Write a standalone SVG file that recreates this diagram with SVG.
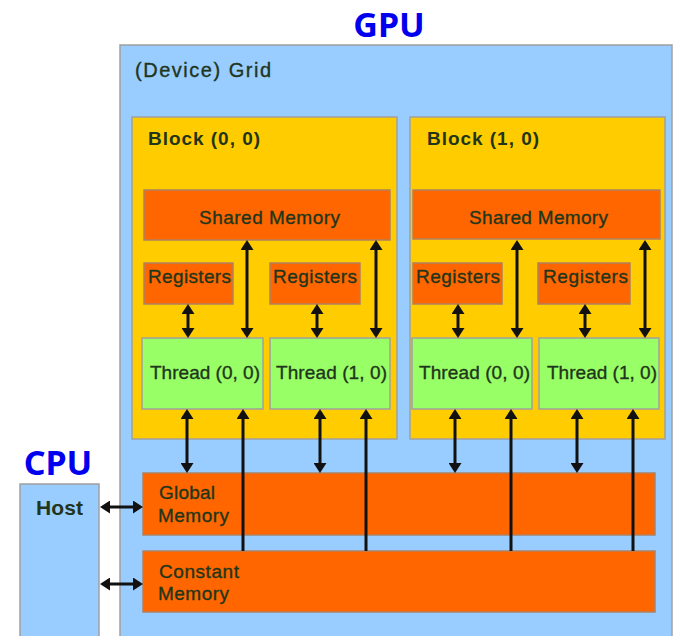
<svg xmlns="http://www.w3.org/2000/svg" width="674" height="636" viewBox="0 0 674 636">
<style>
.lbl{font-family:"Noto Sans","DejaVu Sans",sans-serif;font-weight:bold;fill:#0000ee;font-size:34px;text-anchor:middle}
.t{font-family:"Liberation Sans",Arial,sans-serif;fill:#1f361c;font-size:19px;stroke:#1f361c;stroke-width:0.35}
.b{font-weight:bold;stroke-width:0}
.grid{fill:#99ccff;stroke:#a0a0a0;stroke-width:1.5}
.blk{fill:#ffcc00;stroke:#a0a0a0;stroke-width:1.5}
.mem{fill:#ff6600;stroke:#b08060;stroke-width:1.5}
.thr{fill:#99ff66;stroke:#a0a0a0;stroke-width:1.5}
.host{fill:#99ccff;stroke:#a0a0a0;stroke-width:1.5}
.c line{stroke:#111;stroke-width:3}
.d{marker-start:url(#ah);marker-end:url(#ah)}
.u{marker-start:url(#ah)}
</style>
<defs>
<marker id="ah" viewBox="0 0 10 13" refX="3" refY="6.5" markerWidth="10" markerHeight="13" markerUnits="userSpaceOnUse" orient="auto-start-reverse">
<path d="M0,0 L10,6.5 L0,13 z" fill="#111"/>
</marker>
</defs>

<text class="lbl" x="389" y="37">GPU</text>
<text class="lbl" x="58" y="475">CPU</text>

<g id="grid">
<rect class="grid" x="120" y="45" width="552" height="600"/>
<text class="t" x="135" y="77" textLength="136" lengthAdjust="spacing" style="font-size:20px">(Device) Grid</text>
</g>

<g id="block00">
<rect class="blk" x="132" y="117" width="265" height="322"/>
<text class="t b" x="148" y="145" textLength="112" lengthAdjust="spacing">Block (0, 0)</text>
</g>
<g id="block10">
<rect class="blk" x="410" y="117" width="255" height="322"/>
<text class="t b" x="427" y="145" textLength="112" lengthAdjust="spacing">Block (1, 0)</text>
</g>

<g id="shared0">
<rect class="mem" x="144" y="190" width="246" height="50"/>
<text class="t" x="199" y="224" textLength="141" lengthAdjust="spacing">Shared Memory</text>
</g>
<g id="shared1">
<rect class="mem" x="413" y="190" width="247" height="49"/>
<text class="t" x="469" y="224" textLength="139" lengthAdjust="spacing">Shared Memory</text>
</g>

<g id="reg00">
<rect class="mem" x="144" y="263" width="89" height="41"/>
<text class="t" x="148" y="283" textLength="83" lengthAdjust="spacing">Registers</text>
</g>
<g id="reg01">
<rect class="mem" x="270" y="263" width="90" height="41"/>
<text class="t" x="273" y="283" textLength="84" lengthAdjust="spacing">Registers</text>
</g>
<g id="reg10">
<rect class="mem" x="413" y="263" width="89" height="41"/>
<text class="t" x="416" y="283" textLength="84" lengthAdjust="spacing">Registers</text>
</g>
<g id="reg11">
<rect class="mem" x="538" y="263" width="92" height="41"/>
<text class="t" x="543" y="283" textLength="85" lengthAdjust="spacing">Registers</text>
</g>

<g id="thr00">
<rect class="thr" x="142" y="338" width="121" height="71"/>
<text class="t" x="150" y="379" textLength="110" lengthAdjust="spacing">Thread (0, 0)</text>
</g>
<g id="thr01">
<rect class="thr" x="270" y="338" width="120" height="71"/>
<text class="t" x="276" y="379" textLength="111" lengthAdjust="spacing">Thread (1, 0)</text>
</g>
<g id="thr10">
<rect class="thr" x="412" y="338" width="120" height="71"/>
<text class="t" x="419" y="379" textLength="111" lengthAdjust="spacing">Thread (0, 0)</text>
</g>
<g id="thr11">
<rect class="thr" x="539" y="338" width="120" height="71"/>
<text class="t" x="547" y="379" textLength="110" lengthAdjust="spacing">Thread (1, 0)</text>
</g>

<g id="global">
<rect class="mem" x="143" y="473" width="512" height="62"/>
<text class="t" x="159" y="499" textLength="56" lengthAdjust="spacing">Global</text>
<text class="t" x="158" y="522" textLength="71" lengthAdjust="spacing">Memory</text>
</g>
<g id="constant">
<rect class="mem" x="143" y="551" width="512" height="61"/>
<text class="t" x="159" y="578" textLength="80" lengthAdjust="spacing">Constant</text>
<text class="t" x="158" y="600" textLength="71" lengthAdjust="spacing">Memory</text>
</g>

<g id="host">
<rect class="host" x="20" y="484" width="79" height="170"/>
<text class="t b" x="36" y="515" textLength="47" lengthAdjust="spacing" style="font-size:21px">Host</text>
</g>

<g id="connectors" class="c">
<line class="d" x1="188" y1="311" x2="188" y2="331"/>
<line class="d" x1="317" y1="311" x2="317" y2="331"/>
<line class="d" x1="458" y1="311" x2="458" y2="331"/>
<line class="d" x1="585" y1="311" x2="585" y2="331"/>
<line class="d" x1="247" y1="247" x2="247" y2="331"/>
<line class="d" x1="376" y1="247" x2="376" y2="331"/>
<line class="d" x1="517" y1="247" x2="517" y2="331"/>
<line class="d" x1="645" y1="247" x2="645" y2="331"/>
<line class="d" x1="187" y1="416" x2="187" y2="466"/>
<line class="d" x1="320" y1="416" x2="320" y2="466"/>
<line class="d" x1="455" y1="416" x2="455" y2="466"/>
<line class="d" x1="577" y1="416" x2="577" y2="466"/>
<line class="u" x1="243" y1="416" x2="243" y2="551"/>
<line class="u" x1="366" y1="416" x2="366" y2="551"/>
<line class="u" x1="511" y1="416" x2="511" y2="551"/>
<line class="u" x1="633" y1="416" x2="633" y2="551"/>
<line class="d" x1="107" y1="507" x2="136" y2="507"/>
<line class="d" x1="107" y1="584" x2="136" y2="584"/>
</g>
</svg>
